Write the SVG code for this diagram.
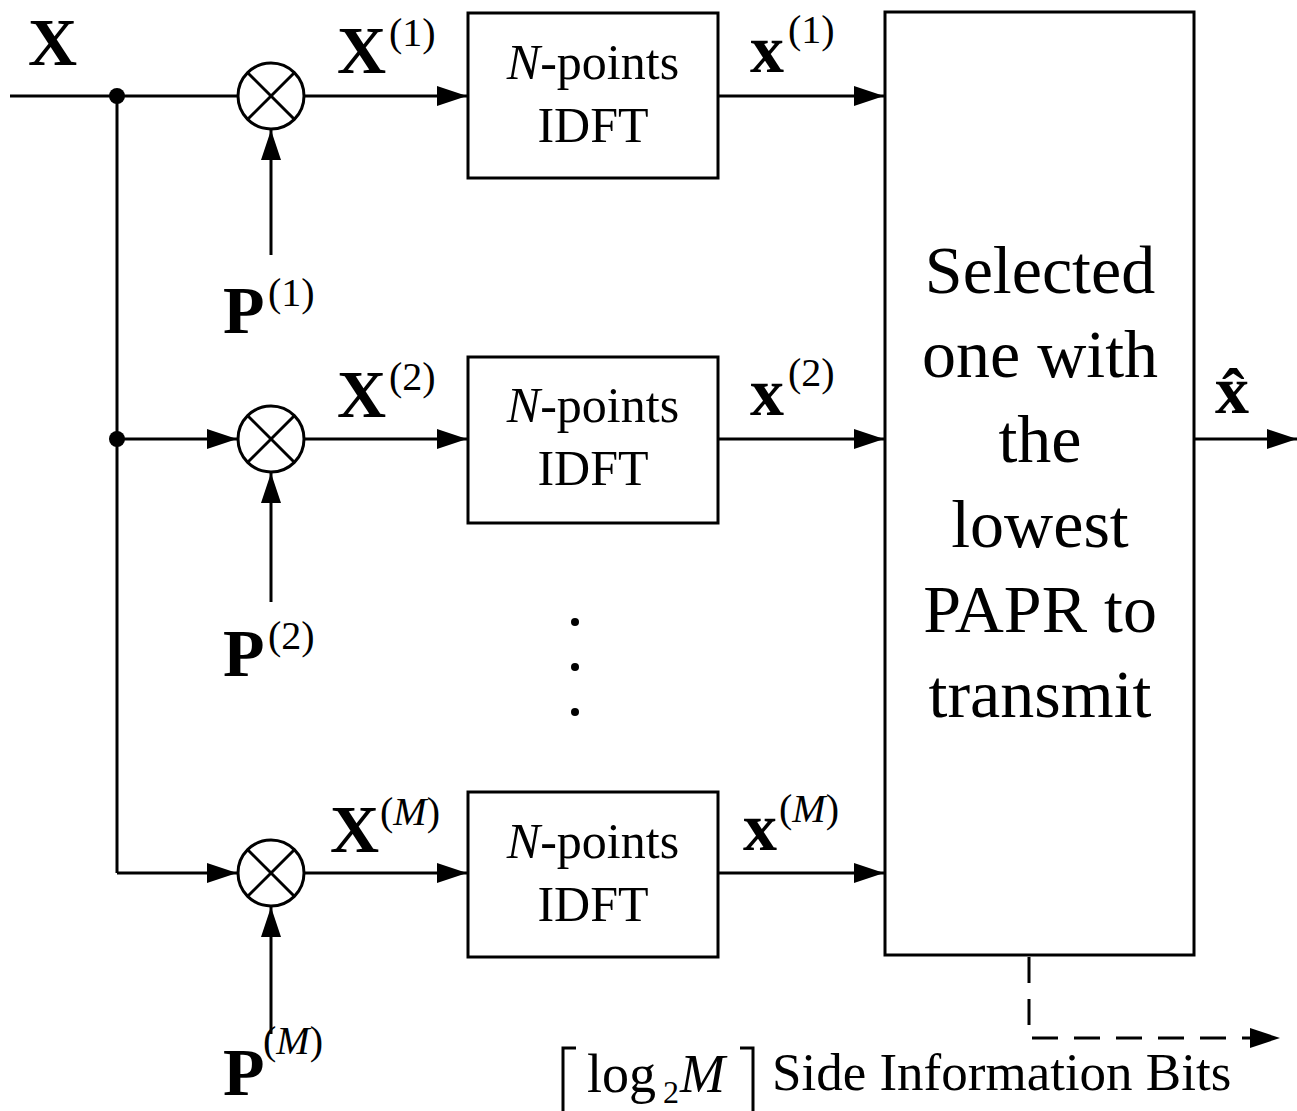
<svg xmlns="http://www.w3.org/2000/svg" width="1297" height="1111" viewBox="0 0 1297 1111">
<style>
.ln{stroke:#000;stroke-width:3;fill:none}
.ar{marker-end:url(#ah)}
.bx{stroke:#000;stroke-width:3;fill:#fff}
.t{font-family:"Liberation Serif","Times New Roman",serif;fill:#000}
.b{font-weight:bold;font-size:68px}
.sup{font-size:40px}
.it{font-style:italic}
.box{font-size:50px;text-anchor:middle}
.big{font-size:68px;text-anchor:middle}
</style>
<defs>
<marker id="ah" markerUnits="userSpaceOnUse" markerWidth="32" markerHeight="22" refX="30" refY="10" orient="auto">
<path d="M0,0 L30,10 L0,20 Z" fill="#000"/>
</marker>
<g id="mult">
<circle r="33" class="ln"/>
<line x1="-23.3" y1="-23.3" x2="23.3" y2="23.3" class="ln"/>
<line x1="-23.3" y1="23.3" x2="23.3" y2="-23.3" class="ln"/>
</g>
</defs>
<rect width="1297" height="1111" fill="#fff"/>

<g id="connectors">
<line x1="10" y1="96" x2="238" y2="96" class="ln"/>
<line x1="117" y1="96" x2="117" y2="873" class="ln"/>
<line x1="117" y1="439" x2="237" y2="439" class="ln ar"/>
<line x1="117" y1="873" x2="237" y2="873" class="ln ar"/>
<line x1="305" y1="96" x2="467" y2="96" class="ln ar"/>
<line x1="305" y1="439" x2="467" y2="439" class="ln ar"/>
<line x1="305" y1="873" x2="467" y2="873" class="ln ar"/>
<line x1="271" y1="255" x2="271" y2="130" class="ln ar"/>
<line x1="271" y1="602" x2="271" y2="473" class="ln ar"/>
<line x1="271" y1="1034" x2="271" y2="907" class="ln ar"/>
<line x1="718" y1="96" x2="884" y2="96" class="ln ar"/>
<line x1="718" y1="439" x2="884" y2="439" class="ln ar"/>
<line x1="718" y1="873" x2="884" y2="873" class="ln ar"/>
<line x1="1194" y1="439" x2="1297" y2="439" class="ln ar"/>
<path d="M1029,957 V1038 H1280" class="ln ar" stroke-dasharray="26 16"/>
<circle cx="117" cy="96" r="8" fill="#000"/>
<circle cx="117" cy="439" r="8" fill="#000"/>
</g>

<g id="mult1"><use href="#mult" x="271" y="96"/></g>
<g id="mult2"><use href="#mult" x="271" y="439"/></g>
<g id="multM"><use href="#mult" x="271" y="873"/></g>

<g id="idft1">
<rect x="468" y="13" width="250" height="165" class="bx"/>
<text x="593" y="79" class="t box"><tspan class="it">N</tspan>-points</text>
<text x="593" y="142" class="t box">IDFT</text>
</g>
<g id="idft2">
<rect x="468" y="357" width="250" height="166" class="bx"/>
<text x="593" y="422" class="t box"><tspan class="it">N</tspan>-points</text>
<text x="593" y="485" class="t box">IDFT</text>
</g>
<g id="idftM">
<rect x="468" y="792" width="250" height="165" class="bx"/>
<text x="593" y="858" class="t box"><tspan class="it">N</tspan>-points</text>
<text x="593" y="921" class="t box">IDFT</text>
</g>

<g id="selector">
<rect x="885" y="12" width="309" height="943" class="bx"/>
<text x="1040" y="293" class="t big">Selected</text>
<text x="1040" y="377" class="t big">one with</text>
<text x="1040" y="462" class="t big">the</text>
<text x="1040" y="547" class="t big">lowest</text>
<text x="1040" y="632" class="t big">PAPR to</text>
<text x="1040" y="717" class="t big">transmit</text>
</g>

<g id="dots">
<circle cx="575" cy="622" r="4" fill="#000"/>
<circle cx="575" cy="667" r="4" fill="#000"/>
<circle cx="575" cy="712" r="4" fill="#000"/>
</g>

<g id="labels">
<text x="28" y="65" class="t b">X</text>
<text x="337" y="73" class="t b">X</text><text x="389" y="46" class="t sup">(1)</text>
<text x="337" y="417" class="t b">X</text><text x="389" y="390" class="t sup">(2)</text>
<text x="330" y="852" class="t b">X</text><text x="380" y="825" class="t sup">(<tspan class="it">M</tspan>)</text>
<text x="750" y="72" class="t b">x</text><text x="788" y="43" class="t sup">(1)</text>
<text x="750" y="415" class="t b">x</text><text x="788" y="386" class="t sup">(2)</text>
<text x="743" y="850" class="t b">x</text><text x="779" y="822" class="t sup">(<tspan class="it">M</tspan>)</text>
<text x="223" y="333" class="t b">P</text><text x="268" y="306" class="t sup">(1)</text>
<text x="223" y="676" class="t b">P</text><text x="268" y="649" class="t sup">(2)</text>
<text x="223" y="1095" class="t b">P</text><text x="263" y="1054" class="t sup">(<tspan class="it">M</tspan>)</text>
<text x="1215" y="413" class="t b">x̂</text>
</g>

<g id="side-info">
<polyline points="576,1048 563,1048 563,1111" class="ln" stroke-width="2.5"/>
<text x="587" y="1092" class="t" font-size="54">log</text>
<text x="663" y="1103" class="t" font-size="32">2</text>
<text x="680" y="1092" class="t it" font-size="54">M</text>
<polyline points="740,1048 753,1048 753,1111" class="ln" stroke-width="2.5"/>
<text x="772" y="1090" class="t" font-size="53">Side Information Bits</text>
</g>
</svg>
